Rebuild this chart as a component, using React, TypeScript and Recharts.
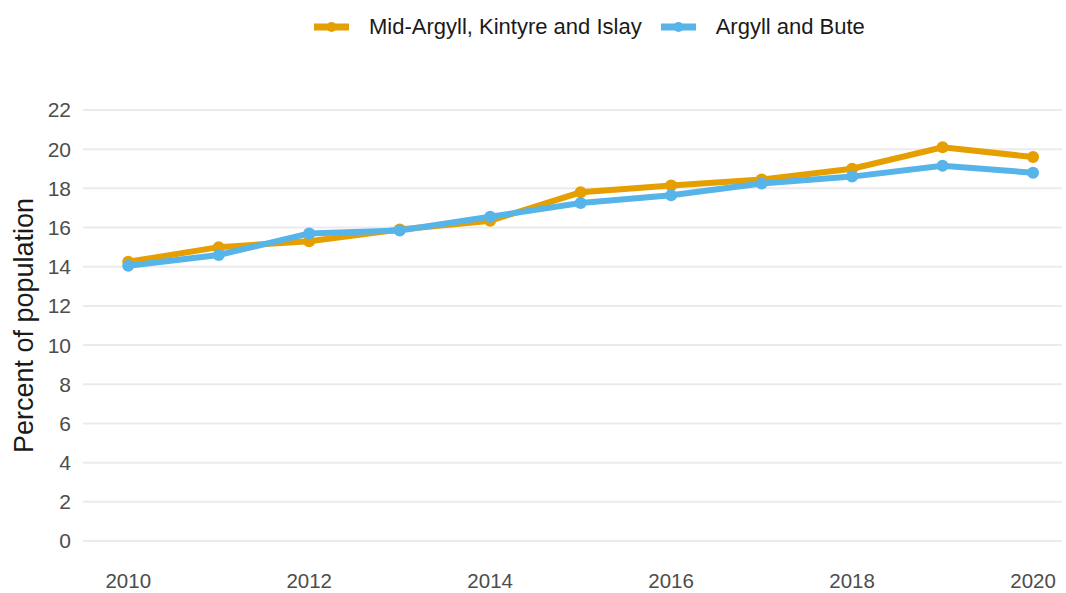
import React from 'react';
import { LineChart, Line, XAxis, YAxis, CartesianGrid } from 'recharts';

const years = [2010, 2011, 2012, 2013, 2014, 2015, 2016, 2017, 2018, 2019, 2020];
const midArgyll = [14.25, 15.0, 15.3, 15.9, 16.35, 17.8, 18.15, 18.45, 19.0, 20.1, 19.6];
const argyllBute = [14.05, 14.6, 15.7, 15.85, 16.55, 17.25, 17.65, 18.25, 18.6, 19.15, 18.8];
const xTicks = [2010, 2012, 2014, 2016, 2018, 2020];
const yTicks = [0, 2, 4, 6, 8, 10, 12, 14, 16, 18, 20, 22];

const series = [
  { key: 'mid', name: 'Mid-Argyll, Kintyre and Islay', color: '#E69F00' },
  { key: 'ab', name: 'Argyll and Bute', color: '#56B4E9' },
];

const data = years.map((year, i) => ({
  year,
  mid: midArgyll[i],
  ab: argyllBute[i],
}));

const FONT = '"Liberation Sans", Arial, sans-serif';

// legend drawn outside the chart so it does not push the plot down
const TopLegend = () => (
  <div
    style={{
      position: 'absolute',
      left: 314,
      top: 14,
      display: 'flex',
      alignItems: 'center',
      fontFamily: FONT,
      fontSize: 22,
      color: '#1a1a1a',
      lineHeight: '26px',
    }}
  >
    {series.map((s) => (
      <div key={s.key} style={{ display: 'flex', alignItems: 'center', marginRight: 19 }}>
        <svg width={35} height={20} style={{ marginRight: 20 }}>
          <line x1={0} y1={10} x2={35} y2={10} stroke={s.color} strokeWidth={7} />
          <circle cx={17.5} cy={10} r={5} fill={s.color} />
        </svg>
        <span>{s.name}</span>
      </div>
    ))}
  </div>
);

const YLabel = (props: any) => {
  const { viewBox } = props;
  const cx = 24;
  const cy = viewBox.y + viewBox.height / 2;
  return (
    <text
      x={cx}
      y={cy}
      transform={`rotate(-90, ${cx}, ${cy})`}
      textAnchor="middle"
      dominantBaseline="central"
      fontFamily={FONT}
      fontSize={27}
      fill="#1a1a1a"
    >
      Percent of population
    </text>
  );
};

export default function App() {
  return (
    <div style={{ position: 'absolute', left: 0, top: 0, width: 1066, height: 593, background: '#fff' }}>
      <LineChart width={1066} height={593} data={data} margin={{ top: 110, right: 4, bottom: 0, left: 0 }}>
        <CartesianGrid horizontal vertical={false} stroke="#ebebeb" strokeWidth={2} />
        <XAxis
          dataKey="year"
          type="number"
          domain={[2009.5, 2020.32]}
          ticks={xTicks}
          allowDataOverflow
          axisLine={false}
          tickLine={false}
          tickSize={0}
          tickMargin={32}
          height={52}
          tick={{ fill: '#4d4d4d', fontSize: 20.5, fontFamily: FONT }}
        />
        <YAxis
          type="number"
          domain={[0, 22]}
          ticks={yTicks}
          width={83}
          axisLine={false}
          tickLine={false}
          tickSize={0}
          tickMargin={12}
          tick={{ fill: '#4d4d4d', fontSize: 21, fontFamily: FONT }}
          label={<YLabel />}
        />
        {series.map((s) => (
          <Line
            key={s.key}
            dataKey={s.key}
            name={s.name}
            stroke={s.color}
            strokeWidth={6}
            dot={{ r: 6, fill: s.color, stroke: 'none' }}
            activeDot={false}
            isAnimationActive={false}
          />
        ))}
      </LineChart>
      <TopLegend />
    </div>
  );
}
